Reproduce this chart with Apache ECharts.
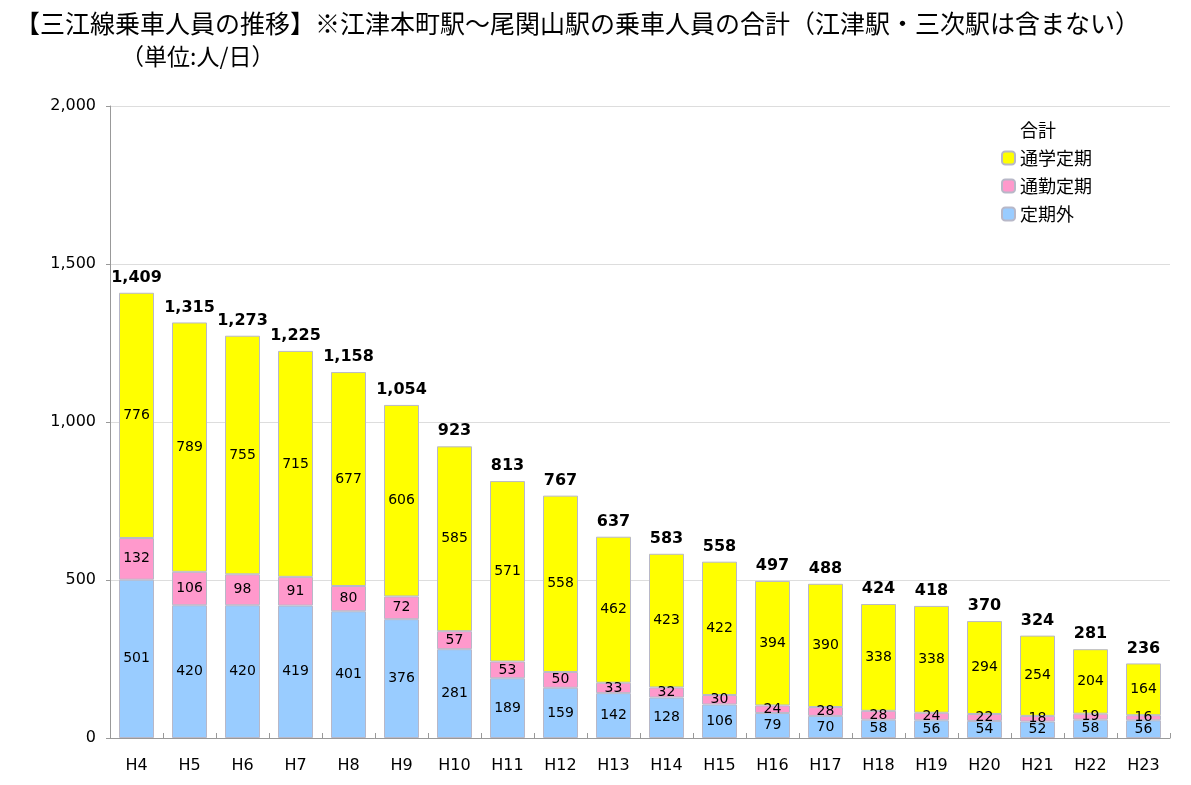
<!DOCTYPE html>
<html><head><meta charset="utf-8">
<script src="https://cdn.jsdelivr.net/npm/echarts@6/dist/echarts.min.js"></script>
<style>html,body{margin:0;padding:0;background:#fff}#c{width:1191px;height:785px}</style>
</head><body><div id="c"></div>
<script>
const categories = ['H4','H5','H6','H7','H8','H9','H10','H11','H12','H13','H14','H15','H16','H17','H18','H19','H20','H21','H22','H23'];
const teikigai = [501,420,420,419,401,376,281,189,159,142,128,106,79,70,58,56,54,52,58,56];
const tsukin = [132,106,98,91,80,72,57,53,50,33,32,30,24,28,28,24,22,18,19,16];
const tsugaku = [776,789,755,715,677,606,585,571,558,462,423,422,394,390,338,338,294,254,204,164];
const yTicks = [0,500,1000,1500,2000];
const totals = categories.map((c,i)=>teikigai[i]+tsukin[i]+tsugaku[i]);

const FONT = '"Noto Sans CJK JP", sans-serif';
const NUM = '"DejaVu Sans", sans-serif';
const fmt = v => Number(v).toLocaleString('en-US');
const border = {borderColor:'#b8b8c8', borderWidth:1};
const segLabel = {show:true, position:'inside', color:'#000', fontSize:14, fontFamily:NUM};

const chart = echarts.init(document.getElementById('c'));
chart.setOption({
  animation:false,
  backgroundColor:'#fff',
  title:[
    {text:'【三江線乗車人員の推移】※江津本町駅～尾関山駅の乗車人員の合計（江津駅・三次駅は含まない）', left:10, top:6,
     textStyle:{fontSize:25, fontWeight:'normal', color:'#000', fontFamily:FONT}},
    {text:'（単位:人/日）', left:116, top:40,
     textStyle:{fontSize:23, fontWeight:'normal', color:'#000', fontFamily:FONT}}
  ],
  legend:{
    orient:'vertical', left:996, top:116, itemGap:10, itemWidth:13, itemHeight:13,
    textStyle:{fontSize:18, color:'#000', fontFamily:FONT},
    data:[{name:'合計', icon:'none'},'通学定期','通勤定期','定期外']
  },
  grid:{left:110, right:21, top:106, bottom:47},
  xAxis:{
    type:'category', data:categories,
    axisLine:{lineStyle:{color:'#999'}},
    axisTick:{show:true, inside:true, length:5, lineStyle:{color:'#999'}},
    axisLabel:{color:'#000', fontSize:16, margin:20, fontFamily:NUM}
  },
  yAxis:{
    type:'value', min:yTicks[0], max:yTicks[yTicks.length-1], interval:yTicks[1]-yTicks[0],
    axisLine:{show:true, lineStyle:{color:'#999'}},
    axisTick:{show:true, length:4, lineStyle:{color:'#999'}},
    splitLine:{lineStyle:{color:'#ddd'}},
    axisLabel:{color:'#000', fontSize:16, margin:14, fontFamily:NUM, formatter:v=>fmt(v)}
  },
  series:[
    {name:'定期外', type:'bar', stack:'s', data:teikigai, barWidth:35,
     itemStyle:Object.assign({color:'#99CCFF'}, border), label:segLabel},
    {name:'通勤定期', type:'bar', stack:'s', data:tsukin,
     itemStyle:Object.assign({color:'#FF99CC'}, border), label:segLabel},
    {name:'通学定期', type:'bar', stack:'s', data:tsugaku,
     itemStyle:Object.assign({color:'#FFFF00'}, border), label:segLabel},
    {name:'合計', type:'bar', stack:'s', data:categories.map(()=>0),
     itemStyle:{color:'rgba(0,0,0,0)', borderWidth:0},
     label:{show:true, position:'top', distance:7, color:'#000', fontSize:16, fontWeight:'bold', fontFamily:NUM,
            formatter:p=>fmt(totals[p.dataIndex])}}
  ]
});
</script></body></html>
